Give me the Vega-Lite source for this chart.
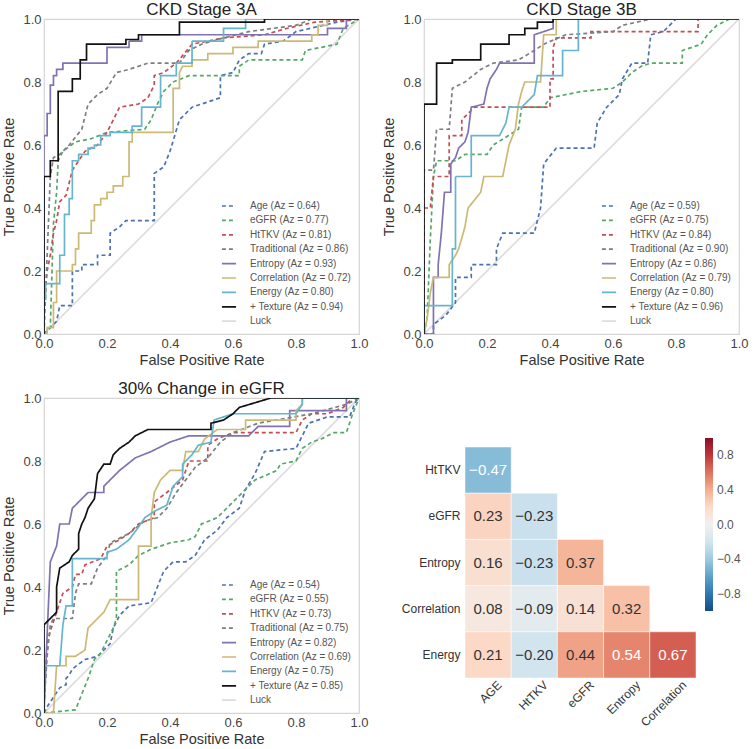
{
"$schema": "https://vega.github.io/schema/vega-lite/v6.json",
"background": "white",
"padding": {"left": 1, "top": 0, "right": 5, "bottom": 0},
"config": {
  "font": "Liberation Sans",
  "view": {"stroke": "#d5d5d5", "strokeWidth": 1.2},
  "axis": {"domain": false, "ticks": false, "grid": false, "labelFontSize": 13, "labelColor": "#444", "titleFontSize": 14.5, "titleFontWeight": "normal", "titleColor": "#333", "labelFlush": false},
  "title": {"fontSize": 17, "fontWeight": "normal", "color": "#222", "offset": -6},
  "legend": {"title": null, "orient": "none", "legendX": 177, "legendY": 179, "symbolType": "stroke", "symbolSize": 200, "labelFontSize": 10, "labelColor": "#555", "rowPadding": 1.4, "labelOffset": 13, "labelLimit": 200}
},
"columns": 2,
"bounds": "flush",
"spacing": {"row": 64, "column": 65},
"resolve": {"scale": {"x": "independent", "y": "independent", "color": "independent", "strokeDash": "independent", "strokeWidth": "independent"}, "legend": {"color": "independent", "strokeDash": "independent", "strokeWidth": "independent"}, "axis": {"x": "independent", "y": "independent"}},
"concat": [
{
  "width": 315, "height": 315,
  "title": "CKD Stage 3A",
  "data": {"values": [
{"s":"Luck","x":0,"y":0},{"s":"Luck","x":1,"y":1},
{"s":"Age","x":0,"y":0},{"s":"Age","x":0.04,"y":0.04},{"s":"Age","x":0.05,"y":0.09},{"s":"Age","x":0.09,"y":0.09},{"s":"Age","x":0.09,"y":0.2},{"s":"Age","x":0.12,"y":0.2},{"s":"Age","x":0.12,"y":0.22},{"s":"Age","x":0.17,"y":0.22},{"s":"Age","x":0.17,"y":0.25},{"s":"Age","x":0.21,"y":0.25},{"s":"Age","x":0.21,"y":0.32},{"s":"Age","x":0.24,"y":0.34},{"s":"Age","x":0.26,"y":0.36},{"s":"Age","x":0.35,"y":0.36},{"s":"Age","x":0.35,"y":0.51},{"s":"Age","x":0.38,"y":0.53},{"s":"Age","x":0.4,"y":0.58},{"s":"Age","x":0.43,"y":0.68},{"s":"Age","x":0.47,"y":0.72},{"s":"Age","x":0.5,"y":0.73},{"s":"Age","x":0.56,"y":0.75},{"s":"Age","x":0.56,"y":0.82},{"s":"Age","x":0.6,"y":0.83},{"s":"Age","x":0.62,"y":0.87},{"s":"Age","x":0.65,"y":0.89},{"s":"Age","x":0.69,"y":0.89},{"s":"Age","x":0.7,"y":0.92},{"s":"Age","x":0.76,"y":0.93},{"s":"Age","x":0.8,"y":0.96},{"s":"Age","x":0.93,"y":0.99},{"s":"Age","x":1,"y":1},
{"s":"eGFR","x":0,"y":0},{"s":"eGFR","x":0.02,"y":0.02},{"s":"eGFR","x":0.03,"y":0.35},{"s":"eGFR","x":0.04,"y":0.45},{"s":"eGFR","x":0.045,"y":0.55},{"s":"eGFR","x":0.06,"y":0.58},{"s":"eGFR","x":0.1,"y":0.61},{"s":"eGFR","x":0.15,"y":0.62},{"s":"eGFR","x":0.2,"y":0.64},{"s":"eGFR","x":0.32,"y":0.65},{"s":"eGFR","x":0.34,"y":0.68},{"s":"eGFR","x":0.36,"y":0.73},{"s":"eGFR","x":0.38,"y":0.77},{"s":"eGFR","x":0.41,"y":0.8},{"s":"eGFR","x":0.46,"y":0.82},{"s":"eGFR","x":0.62,"y":0.82},{"s":"eGFR","x":0.62,"y":0.85},{"s":"eGFR","x":0.65,"y":0.87},{"s":"eGFR","x":0.82,"y":0.87},{"s":"eGFR","x":0.83,"y":0.9},{"s":"eGFR","x":0.93,"y":0.92},{"s":"eGFR","x":0.95,"y":0.97},{"s":"eGFR","x":1,"y":1},
{"s":"HtTKV","x":0,"y":0},{"s":"HtTKV","x":0,"y":0.09},{"s":"HtTKV","x":0.01,"y":0.2},{"s":"HtTKV","x":0.02,"y":0.25},{"s":"HtTKV","x":0.03,"y":0.32},{"s":"HtTKV","x":0.04,"y":0.36},{"s":"HtTKV","x":0.05,"y":0.42},{"s":"HtTKV","x":0.07,"y":0.44},{"s":"HtTKV","x":0.09,"y":0.52},{"s":"HtTKV","x":0.11,"y":0.55},{"s":"HtTKV","x":0.13,"y":0.58},{"s":"HtTKV","x":0.17,"y":0.6},{"s":"HtTKV","x":0.2,"y":0.64},{"s":"HtTKV","x":0.22,"y":0.68},{"s":"HtTKV","x":0.24,"y":0.72},{"s":"HtTKV","x":0.3,"y":0.73},{"s":"HtTKV","x":0.33,"y":0.75},{"s":"HtTKV","x":0.35,"y":0.79},{"s":"HtTKV","x":0.35,"y":0.82},{"s":"HtTKV","x":0.38,"y":0.83},{"s":"HtTKV","x":0.42,"y":0.86},{"s":"HtTKV","x":0.47,"y":0.92},{"s":"HtTKV","x":0.57,"y":0.94},{"s":"HtTKV","x":0.7,"y":0.95},{"s":"HtTKV","x":0.77,"y":0.97},{"s":"HtTKV","x":0.86,"y":0.99},{"s":"HtTKV","x":1,"y":1},
{"s":"Traditional","x":0,"y":0},{"s":"Traditional","x":0.01,"y":0.25},{"s":"Traditional","x":0.02,"y":0.5},{"s":"Traditional","x":0.03,"y":0.56},{"s":"Traditional","x":0.05,"y":0.57},{"s":"Traditional","x":0.08,"y":0.6},{"s":"Traditional","x":0.12,"y":0.65},{"s":"Traditional","x":0.14,"y":0.73},{"s":"Traditional","x":0.17,"y":0.76},{"s":"Traditional","x":0.2,"y":0.78},{"s":"Traditional","x":0.23,"y":0.83},{"s":"Traditional","x":0.27,"y":0.84},{"s":"Traditional","x":0.33,"y":0.86},{"s":"Traditional","x":0.43,"y":0.86},{"s":"Traditional","x":0.46,"y":0.9},{"s":"Traditional","x":0.5,"y":0.92},{"s":"Traditional","x":0.57,"y":0.94},{"s":"Traditional","x":0.65,"y":0.96},{"s":"Traditional","x":0.8,"y":0.98},{"s":"Traditional","x":0.85,"y":1},{"s":"Traditional","x":1,"y":1},
{"s":"Entropy","x":0,"y":0},{"s":"Entropy","x":0,"y":0.63},{"s":"Entropy","x":0.01,"y":0.63},{"s":"Entropy","x":0.01,"y":0.7},{"s":"Entropy","x":0.02,"y":0.7},{"s":"Entropy","x":0.02,"y":0.79},{"s":"Entropy","x":0.03,"y":0.79},{"s":"Entropy","x":0.03,"y":0.82},{"s":"Entropy","x":0.04,"y":0.82},{"s":"Entropy","x":0.04,"y":0.84},{"s":"Entropy","x":0.06,"y":0.84},{"s":"Entropy","x":0.06,"y":0.86},{"s":"Entropy","x":0.2,"y":0.86},{"s":"Entropy","x":0.2,"y":0.91},{"s":"Entropy","x":0.27,"y":0.91},{"s":"Entropy","x":0.27,"y":0.93},{"s":"Entropy","x":0.31,"y":0.93},{"s":"Entropy","x":0.31,"y":0.95},{"s":"Entropy","x":0.9,"y":0.95},{"s":"Entropy","x":0.9,"y":0.97},{"s":"Entropy","x":0.96,"y":0.97},{"s":"Entropy","x":0.96,"y":1},{"s":"Entropy","x":1,"y":1},
{"s":"Correlation","x":0,"y":0},{"s":"Correlation","x":0.01,"y":0},{"s":"Correlation","x":0.01,"y":0.02},{"s":"Correlation","x":0.03,"y":0.02},{"s":"Correlation","x":0.03,"y":0.1},{"s":"Correlation","x":0.04,"y":0.1},{"s":"Correlation","x":0.04,"y":0.2},{"s":"Correlation","x":0.09,"y":0.2},{"s":"Correlation","x":0.09,"y":0.22},{"s":"Correlation","x":0.1,"y":0.22},{"s":"Correlation","x":0.1,"y":0.27},{"s":"Correlation","x":0.11,"y":0.27},{"s":"Correlation","x":0.11,"y":0.32},{"s":"Correlation","x":0.15,"y":0.32},{"s":"Correlation","x":0.15,"y":0.36},{"s":"Correlation","x":0.16,"y":0.36},{"s":"Correlation","x":0.16,"y":0.41},{"s":"Correlation","x":0.18,"y":0.41},{"s":"Correlation","x":0.18,"y":0.43},{"s":"Correlation","x":0.2,"y":0.43},{"s":"Correlation","x":0.2,"y":0.45},{"s":"Correlation","x":0.22,"y":0.45},{"s":"Correlation","x":0.22,"y":0.47},{"s":"Correlation","x":0.25,"y":0.47},{"s":"Correlation","x":0.25,"y":0.5},{"s":"Correlation","x":0.27,"y":0.5},{"s":"Correlation","x":0.27,"y":0.61},{"s":"Correlation","x":0.28,"y":0.61},{"s":"Correlation","x":0.28,"y":0.64},{"s":"Correlation","x":0.41,"y":0.64},{"s":"Correlation","x":0.41,"y":0.78},{"s":"Correlation","x":0.43,"y":0.78},{"s":"Correlation","x":0.43,"y":0.83},{"s":"Correlation","x":0.44,"y":0.85},{"s":"Correlation","x":0.47,"y":0.85},{"s":"Correlation","x":0.47,"y":0.87},{"s":"Correlation","x":0.52,"y":0.87},{"s":"Correlation","x":0.52,"y":0.89},{"s":"Correlation","x":0.6,"y":0.89},{"s":"Correlation","x":0.6,"y":0.91},{"s":"Correlation","x":0.68,"y":0.91},{"s":"Correlation","x":0.68,"y":0.93},{"s":"Correlation","x":0.85,"y":0.93},{"s":"Correlation","x":0.85,"y":0.95},{"s":"Correlation","x":0.87,"y":0.95},{"s":"Correlation","x":0.87,"y":0.98},{"s":"Correlation","x":0.9,"y":0.98},{"s":"Correlation","x":0.9,"y":1},{"s":"Correlation","x":1,"y":1},
{"s":"Energy","x":0,"y":0},{"s":"Energy","x":0,"y":0.11},{"s":"Energy","x":0.005,"y":0.11},{"s":"Energy","x":0.005,"y":0.16},{"s":"Energy","x":0.05,"y":0.16},{"s":"Energy","x":0.05,"y":0.25},{"s":"Energy","x":0.065,"y":0.25},{"s":"Energy","x":0.065,"y":0.38},{"s":"Energy","x":0.08,"y":0.38},{"s":"Energy","x":0.08,"y":0.43},{"s":"Energy","x":0.09,"y":0.43},{"s":"Energy","x":0.09,"y":0.55},{"s":"Energy","x":0.11,"y":0.55},{"s":"Energy","x":0.11,"y":0.57},{"s":"Energy","x":0.14,"y":0.57},{"s":"Energy","x":0.14,"y":0.59},{"s":"Energy","x":0.16,"y":0.59},{"s":"Energy","x":0.16,"y":0.6},{"s":"Energy","x":0.18,"y":0.6},{"s":"Energy","x":0.18,"y":0.63},{"s":"Energy","x":0.21,"y":0.63},{"s":"Energy","x":0.21,"y":0.64},{"s":"Energy","x":0.28,"y":0.64},{"s":"Energy","x":0.28,"y":0.66},{"s":"Energy","x":0.31,"y":0.66},{"s":"Energy","x":0.31,"y":0.72},{"s":"Energy","x":0.37,"y":0.72},{"s":"Energy","x":0.37,"y":0.82},{"s":"Energy","x":0.42,"y":0.82},{"s":"Energy","x":0.42,"y":0.86},{"s":"Energy","x":0.47,"y":0.86},{"s":"Energy","x":0.47,"y":0.93},{"s":"Energy","x":0.57,"y":0.93},{"s":"Energy","x":0.57,"y":0.97},{"s":"Energy","x":0.64,"y":0.97},{"s":"Energy","x":0.64,"y":1},{"s":"Energy","x":1,"y":1},
{"s":"+ Texture","x":0,"y":0},{"s":"+ Texture","x":0,"y":0.5},{"s":"+ Texture","x":0.02,"y":0.5},{"s":"+ Texture","x":0.02,"y":0.55},{"s":"+ Texture","x":0.045,"y":0.55},{"s":"+ Texture","x":0.045,"y":0.77},{"s":"+ Texture","x":0.09,"y":0.77},{"s":"+ Texture","x":0.09,"y":0.81},{"s":"+ Texture","x":0.115,"y":0.81},{"s":"+ Texture","x":0.115,"y":0.87},{"s":"+ Texture","x":0.135,"y":0.87},{"s":"+ Texture","x":0.135,"y":0.92},{"s":"+ Texture","x":0.26,"y":0.92},{"s":"+ Texture","x":0.26,"y":0.935},{"s":"+ Texture","x":0.3,"y":0.935},{"s":"+ Texture","x":0.3,"y":0.95},{"s":"+ Texture","x":0.43,"y":0.95},{"s":"+ Texture","x":0.43,"y":0.99},{"s":"+ Texture","x":0.7,"y":0.99},{"s":"+ Texture","x":0.7,"y":1},{"s":"+ Texture","x":1,"y":1}
  ]},
  "mark": {"type": "line", "clip": true},
  "encoding": {
    "x": {"field": "x", "type": "quantitative", "title": "False Positive Rate", "scale": {"domain": [0, 1], "nice": false}, "axis": {"values": [0, 0.2, 0.4, 0.6, 0.8, 1], "format": ".1f", "labelPadding": 3, "titlePadding": 3}},
    "y": {"field": "y", "type": "quantitative", "title": "True Positive Rate", "scale": {"domain": [0, 1], "nice": false}, "axis": {"values": [0, 0.2, 0.4, 0.6, 0.8, 1], "format": ".1f", "labelPadding": 3, "titlePadding": 6}},
    "order": [{"field": "x", "type": "quantitative"}, {"field": "y", "type": "quantitative"}],
    "color": {"field": "s", "type": "nominal", "scale": {"domain": ["Age","eGFR","HtTKV","Traditional","Entropy","Correlation","Energy","+ Texture","Luck"], "range": ["#4c72b0","#55a868","#c44e52","#7a7f80","#8172b2","#ccb974","#64b5cd","#111111","#dddddd"]},
      "legend": {"labelExpr": "datum.label == 'Luck' ? 'Luck' : datum.label + ' (Az = ' + {'Age':'0.64','eGFR':'0.77','HtTKV':'0.81','Traditional':'0.86','Entropy':'0.93','Correlation':'0.72','Energy':'0.80','+ Texture':'0.94'}[datum.label] + ')'"}},
    "strokeDash": {"field": "s", "type": "nominal", "scale": {"domain": ["Age","eGFR","HtTKV","Traditional","Entropy","Correlation","Energy","+ Texture","Luck"], "range": [[4,3],[4,3],[4,3],[4,3],[1,0],[1,0],[1,0],[1,0],[1,0]]},
      "legend": {"labelExpr": "datum.label == 'Luck' ? 'Luck' : datum.label + ' (Az = ' + {'Age':'0.64','eGFR':'0.77','HtTKV':'0.81','Traditional':'0.86','Entropy':'0.93','Correlation':'0.72','Energy':'0.80','+ Texture':'0.94'}[datum.label] + ')'"}},
    "strokeWidth": {"field": "s", "type": "nominal", "scale": {"domain": ["Age","eGFR","HtTKV","Traditional","Entropy","Correlation","Energy","+ Texture","Luck"], "range": [1.7,1.7,1.7,1.7,1.7,1.7,1.7,2.6,1]},
      "legend": {"labelExpr": "datum.label == 'Luck' ? 'Luck' : datum.label + ' (Az = ' + {'Age':'0.64','eGFR':'0.77','HtTKV':'0.81','Traditional':'0.86','Entropy':'0.93','Correlation':'0.72','Energy':'0.80','+ Texture':'0.94'}[datum.label] + ')'"}}
  }
},
{
  "width": 315, "height": 315,
  "title": "CKD Stage 3B",
  "data": {"values": [
{"s":"Luck","x":0,"y":0},{"s":"Luck","x":1,"y":1},
{"s":"Age","x":0,"y":0},{"s":"Age","x":0.03,"y":0},{"s":"Age","x":0.03,"y":0.03},{"s":"Age","x":0.07,"y":0.06},{"s":"Age","x":0.1,"y":0.1},{"s":"Age","x":0.1,"y":0.18},{"s":"Age","x":0.15,"y":0.18},{"s":"Age","x":0.15,"y":0.22},{"s":"Age","x":0.23,"y":0.22},{"s":"Age","x":0.23,"y":0.27},{"s":"Age","x":0.25,"y":0.32},{"s":"Age","x":0.35,"y":0.32},{"s":"Age","x":0.37,"y":0.4},{"s":"Age","x":0.38,"y":0.54},{"s":"Age","x":0.42,"y":0.59},{"s":"Age","x":0.54,"y":0.59},{"s":"Age","x":0.55,"y":0.67},{"s":"Age","x":0.58,"y":0.72},{"s":"Age","x":0.62,"y":0.76},{"s":"Age","x":0.63,"y":0.81},{"s":"Age","x":0.66,"y":0.86},{"s":"Age","x":0.71,"y":0.86},{"s":"Age","x":0.72,"y":0.95},{"s":"Age","x":0.76,"y":0.96},{"s":"Age","x":0.8,"y":1},{"s":"Age","x":1,"y":1},
{"s":"eGFR","x":0,"y":0},{"s":"eGFR","x":0.01,"y":0.05},{"s":"eGFR","x":0.02,"y":0.3},{"s":"eGFR","x":0.03,"y":0.5},{"s":"eGFR","x":0.04,"y":0.55},{"s":"eGFR","x":0.1,"y":0.55},{"s":"eGFR","x":0.13,"y":0.57},{"s":"eGFR","x":0.2,"y":0.57},{"s":"eGFR","x":0.22,"y":0.6},{"s":"eGFR","x":0.3,"y":0.65},{"s":"eGFR","x":0.31,"y":0.72},{"s":"eGFR","x":0.38,"y":0.72},{"s":"eGFR","x":0.4,"y":0.75},{"s":"eGFR","x":0.5,"y":0.77},{"s":"eGFR","x":0.6,"y":0.78},{"s":"eGFR","x":0.63,"y":0.8},{"s":"eGFR","x":0.66,"y":0.83},{"s":"eGFR","x":0.69,"y":0.85},{"s":"eGFR","x":0.72,"y":0.86},{"s":"eGFR","x":0.82,"y":0.86},{"s":"eGFR","x":0.82,"y":0.9},{"s":"eGFR","x":0.88,"y":0.92},{"s":"eGFR","x":0.9,"y":0.95},{"s":"eGFR","x":0.93,"y":0.98},{"s":"eGFR","x":0.97,"y":1},{"s":"eGFR","x":1,"y":1},
{"s":"HtTKV","x":0,"y":0},{"s":"HtTKV","x":0,"y":0.4},{"s":"HtTKV","x":0.02,"y":0.4},{"s":"HtTKV","x":0.03,"y":0.5},{"s":"HtTKV","x":0.08,"y":0.5},{"s":"HtTKV","x":0.08,"y":0.63},{"s":"HtTKV","x":0.12,"y":0.63},{"s":"HtTKV","x":0.12,"y":0.68},{"s":"HtTKV","x":0.16,"y":0.72},{"s":"HtTKV","x":0.4,"y":0.72},{"s":"HtTKV","x":0.4,"y":0.81},{"s":"HtTKV","x":0.41,"y":0.81},{"s":"HtTKV","x":0.41,"y":0.91},{"s":"HtTKV","x":0.42,"y":0.94},{"s":"HtTKV","x":0.53,"y":0.94},{"s":"HtTKV","x":0.53,"y":0.96},{"s":"HtTKV","x":0.87,"y":0.96},{"s":"HtTKV","x":0.87,"y":1},{"s":"HtTKV","x":1,"y":1},
{"s":"Traditional","x":0,"y":0},{"s":"Traditional","x":0,"y":0.52},{"s":"Traditional","x":0.03,"y":0.52},{"s":"Traditional","x":0.04,"y":0.65},{"s":"Traditional","x":0.08,"y":0.65},{"s":"Traditional","x":0.09,"y":0.78},{"s":"Traditional","x":0.13,"y":0.8},{"s":"Traditional","x":0.18,"y":0.84},{"s":"Traditional","x":0.22,"y":0.86},{"s":"Traditional","x":0.3,"y":0.87},{"s":"Traditional","x":0.35,"y":0.9},{"s":"Traditional","x":0.38,"y":0.92},{"s":"Traditional","x":0.45,"y":0.95},{"s":"Traditional","x":0.6,"y":0.96},{"s":"Traditional","x":0.63,"y":0.98},{"s":"Traditional","x":0.72,"y":1},{"s":"Traditional","x":1,"y":1},
{"s":"Entropy","x":0,"y":0},{"s":"Entropy","x":0.03,"y":0},{"s":"Entropy","x":0.03,"y":0.18},{"s":"Entropy","x":0.045,"y":0.18},{"s":"Entropy","x":0.045,"y":0.22},{"s":"Entropy","x":0.055,"y":0.32},{"s":"Entropy","x":0.065,"y":0.45},{"s":"Entropy","x":0.085,"y":0.45},{"s":"Entropy","x":0.085,"y":0.54},{"s":"Entropy","x":0.1,"y":0.56},{"s":"Entropy","x":0.11,"y":0.59},{"s":"Entropy","x":0.13,"y":0.61},{"s":"Entropy","x":0.14,"y":0.64},{"s":"Entropy","x":0.15,"y":0.72},{"s":"Entropy","x":0.19,"y":0.73},{"s":"Entropy","x":0.2,"y":0.78},{"s":"Entropy","x":0.21,"y":0.81},{"s":"Entropy","x":0.23,"y":0.84},{"s":"Entropy","x":0.24,"y":0.86},{"s":"Entropy","x":0.35,"y":0.86},{"s":"Entropy","x":0.35,"y":0.95},{"s":"Entropy","x":0.41,"y":0.97},{"s":"Entropy","x":0.41,"y":1},{"s":"Entropy","x":1,"y":1},
{"s":"Correlation","x":0,"y":0},{"s":"Correlation","x":0.01,"y":0.05},{"s":"Correlation","x":0.02,"y":0.13},{"s":"Correlation","x":0.03,"y":0.18},{"s":"Correlation","x":0.08,"y":0.18},{"s":"Correlation","x":0.08,"y":0.22},{"s":"Correlation","x":0.1,"y":0.25},{"s":"Correlation","x":0.11,"y":0.27},{"s":"Correlation","x":0.13,"y":0.34},{"s":"Correlation","x":0.14,"y":0.4},{"s":"Correlation","x":0.18,"y":0.45},{"s":"Correlation","x":0.19,"y":0.5},{"s":"Correlation","x":0.25,"y":0.5},{"s":"Correlation","x":0.26,"y":0.55},{"s":"Correlation","x":0.27,"y":0.6},{"s":"Correlation","x":0.29,"y":0.65},{"s":"Correlation","x":0.3,"y":0.73},{"s":"Correlation","x":0.31,"y":0.77},{"s":"Correlation","x":0.32,"y":0.8},{"s":"Correlation","x":0.37,"y":0.8},{"s":"Correlation","x":0.38,"y":0.95},{"s":"Correlation","x":0.42,"y":0.95},{"s":"Correlation","x":0.42,"y":1},{"s":"Correlation","x":1,"y":1},
{"s":"Energy","x":0,"y":0},{"s":"Energy","x":0,"y":0.09},{"s":"Energy","x":0.09,"y":0.09},{"s":"Energy","x":0.09,"y":0.27},{"s":"Energy","x":0.1,"y":0.27},{"s":"Energy","x":0.1,"y":0.5},{"s":"Energy","x":0.15,"y":0.5},{"s":"Energy","x":0.15,"y":0.63},{"s":"Energy","x":0.24,"y":0.63},{"s":"Energy","x":0.26,"y":0.67},{"s":"Energy","x":0.27,"y":0.72},{"s":"Energy","x":0.31,"y":0.72},{"s":"Energy","x":0.35,"y":0.76},{"s":"Energy","x":0.36,"y":0.82},{"s":"Energy","x":0.44,"y":0.82},{"s":"Energy","x":0.44,"y":0.9},{"s":"Energy","x":0.49,"y":0.9},{"s":"Energy","x":0.49,"y":1},{"s":"Energy","x":1,"y":1},
{"s":"+ Texture","x":0,"y":0},{"s":"+ Texture","x":0,"y":0.73},{"s":"+ Texture","x":0.04,"y":0.73},{"s":"+ Texture","x":0.04,"y":0.86},{"s":"+ Texture","x":0.09,"y":0.86},{"s":"+ Texture","x":0.09,"y":0.87},{"s":"+ Texture","x":0.18,"y":0.87},{"s":"+ Texture","x":0.18,"y":0.92},{"s":"+ Texture","x":0.27,"y":0.92},{"s":"+ Texture","x":0.27,"y":0.95},{"s":"+ Texture","x":0.32,"y":0.95},{"s":"+ Texture","x":0.32,"y":0.97},{"s":"+ Texture","x":0.36,"y":0.97},{"s":"+ Texture","x":0.36,"y":0.99},{"s":"+ Texture","x":0.41,"y":0.99},{"s":"+ Texture","x":0.41,"y":1},{"s":"+ Texture","x":1,"y":1}
  ]},
  "mark": {"type": "line", "clip": true},
  "encoding": {
    "x": {"field": "x", "type": "quantitative", "title": "False Positive Rate", "scale": {"domain": [0, 1], "nice": false}, "axis": {"values": [0, 0.2, 0.4, 0.6, 0.8, 1], "format": ".1f", "labelPadding": 3, "titlePadding": 3}},
    "y": {"field": "y", "type": "quantitative", "title": "True Positive Rate", "scale": {"domain": [0, 1], "nice": false}, "axis": {"values": [0, 0.2, 0.4, 0.6, 0.8, 1], "format": ".1f", "labelPadding": 3, "titlePadding": 6}},
    "order": [{"field": "x", "type": "quantitative"}, {"field": "y", "type": "quantitative"}],
    "color": {"field": "s", "type": "nominal", "scale": {"domain": ["Age","eGFR","HtTKV","Traditional","Entropy","Correlation","Energy","+ Texture","Luck"], "range": ["#4c72b0","#55a868","#c44e52","#7a7f80","#8172b2","#ccb974","#64b5cd","#111111","#dddddd"]},
      "legend": {"labelExpr": "datum.label == 'Luck' ? 'Luck' : datum.label + ' (Az = ' + {'Age':'0.59','eGFR':'0.75','HtTKV':'0.84','Traditional':'0.90','Entropy':'0.86','Correlation':'0.79','Energy':'0.80','+ Texture':'0.96'}[datum.label] + ')'"}},
    "strokeDash": {"field": "s", "type": "nominal", "scale": {"domain": ["Age","eGFR","HtTKV","Traditional","Entropy","Correlation","Energy","+ Texture","Luck"], "range": [[4,3],[4,3],[4,3],[4,3],[1,0],[1,0],[1,0],[1,0],[1,0]]},
      "legend": {"labelExpr": "datum.label == 'Luck' ? 'Luck' : datum.label + ' (Az = ' + {'Age':'0.59','eGFR':'0.75','HtTKV':'0.84','Traditional':'0.90','Entropy':'0.86','Correlation':'0.79','Energy':'0.80','+ Texture':'0.96'}[datum.label] + ')'"}},
    "strokeWidth": {"field": "s", "type": "nominal", "scale": {"domain": ["Age","eGFR","HtTKV","Traditional","Entropy","Correlation","Energy","+ Texture","Luck"], "range": [1.7,1.7,1.7,1.7,1.7,1.7,1.7,2.6,1]},
      "legend": {"labelExpr": "datum.label == 'Luck' ? 'Luck' : datum.label + ' (Az = ' + {'Age':'0.59','eGFR':'0.75','HtTKV':'0.84','Traditional':'0.90','Entropy':'0.86','Correlation':'0.79','Energy':'0.80','+ Texture':'0.96'}[datum.label] + ')'"}}
  }
},
{
  "width": 315, "height": 315,
  "title": "30% Change in eGFR",
  "data": {"values": [
{"s":"Luck","x":0,"y":0},{"s":"Luck","x":1,"y":1},
{"s":"Age","x":0,"y":0},{"s":"Age","x":0.01,"y":0.02},{"s":"Age","x":0.05,"y":0.08},{"s":"Age","x":0.07,"y":0.09},{"s":"Age","x":0.07,"y":0.11},{"s":"Age","x":0.08,"y":0.12},{"s":"Age","x":0.09,"y":0.14},{"s":"Age","x":0.13,"y":0.17},{"s":"Age","x":0.17,"y":0.18},{"s":"Age","x":0.19,"y":0.2},{"s":"Age","x":0.21,"y":0.22},{"s":"Age","x":0.22,"y":0.27},{"s":"Age","x":0.24,"y":0.31},{"s":"Age","x":0.27,"y":0.34},{"s":"Age","x":0.34,"y":0.35},{"s":"Age","x":0.36,"y":0.4},{"s":"Age","x":0.38,"y":0.45},{"s":"Age","x":0.41,"y":0.48},{"s":"Age","x":0.45,"y":0.48},{"s":"Age","x":0.48,"y":0.5},{"s":"Age","x":0.51,"y":0.55},{"s":"Age","x":0.55,"y":0.58},{"s":"Age","x":0.58,"y":0.62},{"s":"Age","x":0.62,"y":0.65},{"s":"Age","x":0.64,"y":0.71},{"s":"Age","x":0.67,"y":0.76},{"s":"Age","x":0.7,"y":0.83},{"s":"Age","x":0.8,"y":0.84},{"s":"Age","x":0.82,"y":0.88},{"s":"Age","x":0.84,"y":0.92},{"s":"Age","x":0.9,"y":0.94},{"s":"Age","x":0.97,"y":0.94},{"s":"Age","x":0.99,"y":0.99},{"s":"Age","x":1,"y":1},
{"s":"eGFR","x":0,"y":0},{"s":"eGFR","x":0.1,"y":0.01},{"s":"eGFR","x":0.12,"y":0.06},{"s":"eGFR","x":0.14,"y":0.11},{"s":"eGFR","x":0.16,"y":0.17},{"s":"eGFR","x":0.18,"y":0.19},{"s":"eGFR","x":0.2,"y":0.23},{"s":"eGFR","x":0.22,"y":0.27},{"s":"eGFR","x":0.23,"y":0.3},{"s":"eGFR","x":0.23,"y":0.45},{"s":"eGFR","x":0.27,"y":0.47},{"s":"eGFR","x":0.3,"y":0.5},{"s":"eGFR","x":0.34,"y":0.52},{"s":"eGFR","x":0.4,"y":0.54},{"s":"eGFR","x":0.46,"y":0.55},{"s":"eGFR","x":0.48,"y":0.56},{"s":"eGFR","x":0.5,"y":0.6},{"s":"eGFR","x":0.55,"y":0.62},{"s":"eGFR","x":0.6,"y":0.67},{"s":"eGFR","x":0.63,"y":0.7},{"s":"eGFR","x":0.67,"y":0.74},{"s":"eGFR","x":0.74,"y":0.77},{"s":"eGFR","x":0.75,"y":0.79},{"s":"eGFR","x":0.8,"y":0.8},{"s":"eGFR","x":0.82,"y":0.84},{"s":"eGFR","x":0.85,"y":0.86},{"s":"eGFR","x":0.88,"y":0.87},{"s":"eGFR","x":0.92,"y":0.89},{"s":"eGFR","x":0.96,"y":0.89},{"s":"eGFR","x":0.98,"y":0.95},{"s":"eGFR","x":1,"y":1},
{"s":"HtTKV","x":0,"y":0},{"s":"HtTKV","x":0,"y":0.03},{"s":"HtTKV","x":0.01,"y":0.22},{"s":"HtTKV","x":0.02,"y":0.26},{"s":"HtTKV","x":0.04,"y":0.32},{"s":"HtTKV","x":0.06,"y":0.38},{"s":"HtTKV","x":0.09,"y":0.4},{"s":"HtTKV","x":0.1,"y":0.44},{"s":"HtTKV","x":0.12,"y":0.44},{"s":"HtTKV","x":0.13,"y":0.47},{"s":"HtTKV","x":0.18,"y":0.49},{"s":"HtTKV","x":0.2,"y":0.53},{"s":"HtTKV","x":0.24,"y":0.55},{"s":"HtTKV","x":0.27,"y":0.57},{"s":"HtTKV","x":0.3,"y":0.6},{"s":"HtTKV","x":0.35,"y":0.62},{"s":"HtTKV","x":0.35,"y":0.67},{"s":"HtTKV","x":0.39,"y":0.7},{"s":"HtTKV","x":0.44,"y":0.74},{"s":"HtTKV","x":0.46,"y":0.8},{"s":"HtTKV","x":0.52,"y":0.8},{"s":"HtTKV","x":0.52,"y":0.85},{"s":"HtTKV","x":0.55,"y":0.87},{"s":"HtTKV","x":0.6,"y":0.89},{"s":"HtTKV","x":0.8,"y":0.89},{"s":"HtTKV","x":0.82,"y":0.93},{"s":"HtTKV","x":0.85,"y":0.95},{"s":"HtTKV","x":0.9,"y":0.95},{"s":"HtTKV","x":0.95,"y":0.97},{"s":"HtTKV","x":0.98,"y":1},{"s":"HtTKV","x":1,"y":1},
{"s":"Traditional","x":0,"y":0},{"s":"Traditional","x":0,"y":0.03},{"s":"Traditional","x":0.01,"y":0.18},{"s":"Traditional","x":0.02,"y":0.28},{"s":"Traditional","x":0.03,"y":0.3},{"s":"Traditional","x":0.09,"y":0.3},{"s":"Traditional","x":0.1,"y":0.38},{"s":"Traditional","x":0.11,"y":0.41},{"s":"Traditional","x":0.15,"y":0.41},{"s":"Traditional","x":0.17,"y":0.46},{"s":"Traditional","x":0.2,"y":0.5},{"s":"Traditional","x":0.21,"y":0.54},{"s":"Traditional","x":0.27,"y":0.57},{"s":"Traditional","x":0.32,"y":0.61},{"s":"Traditional","x":0.36,"y":0.62},{"s":"Traditional","x":0.39,"y":0.65},{"s":"Traditional","x":0.42,"y":0.7},{"s":"Traditional","x":0.48,"y":0.78},{"s":"Traditional","x":0.52,"y":0.81},{"s":"Traditional","x":0.56,"y":0.86},{"s":"Traditional","x":0.6,"y":0.89},{"s":"Traditional","x":0.68,"y":0.92},{"s":"Traditional","x":0.85,"y":0.95},{"s":"Traditional","x":0.96,"y":0.98},{"s":"Traditional","x":1,"y":1},
{"s":"Entropy","x":0,"y":0},{"s":"Entropy","x":0.01,"y":0.25},{"s":"Entropy","x":0.02,"y":0.48},{"s":"Entropy","x":0.04,"y":0.53},{"s":"Entropy","x":0.05,"y":0.6},{"s":"Entropy","x":0.08,"y":0.6},{"s":"Entropy","x":0.09,"y":0.65},{"s":"Entropy","x":0.11,"y":0.67},{"s":"Entropy","x":0.14,"y":0.7},{"s":"Entropy","x":0.19,"y":0.7},{"s":"Entropy","x":0.19,"y":0.72},{"s":"Entropy","x":0.24,"y":0.77},{"s":"Entropy","x":0.29,"y":0.81},{"s":"Entropy","x":0.34,"y":0.83},{"s":"Entropy","x":0.4,"y":0.86},{"s":"Entropy","x":0.46,"y":0.88},{"s":"Entropy","x":0.65,"y":0.88},{"s":"Entropy","x":0.68,"y":0.91},{"s":"Entropy","x":0.78,"y":0.91},{"s":"Entropy","x":0.78,"y":0.96},{"s":"Entropy","x":0.96,"y":0.96},{"s":"Entropy","x":0.96,"y":1},{"s":"Entropy","x":1,"y":1},
{"s":"Correlation","x":0,"y":0},{"s":"Correlation","x":0.03,"y":0},{"s":"Correlation","x":0.04,"y":0.15},{"s":"Correlation","x":0.07,"y":0.15},{"s":"Correlation","x":0.07,"y":0.18},{"s":"Correlation","x":0.1,"y":0.18},{"s":"Correlation","x":0.13,"y":0.2},{"s":"Correlation","x":0.14,"y":0.27},{"s":"Correlation","x":0.19,"y":0.32},{"s":"Correlation","x":0.21,"y":0.36},{"s":"Correlation","x":0.3,"y":0.36},{"s":"Correlation","x":0.3,"y":0.53},{"s":"Correlation","x":0.34,"y":0.53},{"s":"Correlation","x":0.34,"y":0.62},{"s":"Correlation","x":0.35,"y":0.7},{"s":"Correlation","x":0.37,"y":0.74},{"s":"Correlation","x":0.4,"y":0.77},{"s":"Correlation","x":0.44,"y":0.77},{"s":"Correlation","x":0.45,"y":0.83},{"s":"Correlation","x":0.49,"y":0.83},{"s":"Correlation","x":0.51,"y":0.87},{"s":"Correlation","x":0.55,"y":0.9},{"s":"Correlation","x":0.64,"y":0.9},{"s":"Correlation","x":0.64,"y":0.93},{"s":"Correlation","x":0.8,"y":0.93},{"s":"Correlation","x":0.8,"y":0.96},{"s":"Correlation","x":0.82,"y":0.98},{"s":"Correlation","x":0.82,"y":1},{"s":"Correlation","x":1,"y":1},
{"s":"Energy","x":0,"y":0},{"s":"Energy","x":0,"y":0.15},{"s":"Energy","x":0.05,"y":0.15},{"s":"Energy","x":0.06,"y":0.28},{"s":"Energy","x":0.07,"y":0.34},{"s":"Energy","x":0.09,"y":0.34},{"s":"Energy","x":0.09,"y":0.49},{"s":"Energy","x":0.2,"y":0.49},{"s":"Energy","x":0.2,"y":0.51},{"s":"Energy","x":0.23,"y":0.52},{"s":"Energy","x":0.27,"y":0.55},{"s":"Energy","x":0.3,"y":0.59},{"s":"Energy","x":0.32,"y":0.62},{"s":"Energy","x":0.35,"y":0.64},{"s":"Energy","x":0.39,"y":0.66},{"s":"Energy","x":0.41,"y":0.72},{"s":"Energy","x":0.44,"y":0.75},{"s":"Energy","x":0.44,"y":0.79},{"s":"Energy","x":0.47,"y":0.82},{"s":"Energy","x":0.49,"y":0.85},{"s":"Energy","x":0.53,"y":0.86},{"s":"Energy","x":0.54,"y":0.93},{"s":"Energy","x":0.6,"y":0.95},{"s":"Energy","x":0.8,"y":0.95},{"s":"Energy","x":0.82,"y":0.98},{"s":"Energy","x":0.82,"y":1},{"s":"Energy","x":1,"y":1},
{"s":"+ Texture","x":0,"y":0},{"s":"+ Texture","x":0,"y":0.28},{"s":"+ Texture","x":0.02,"y":0.3},{"s":"+ Texture","x":0.04,"y":0.32},{"s":"+ Texture","x":0.04,"y":0.4},{"s":"+ Texture","x":0.05,"y":0.46},{"s":"+ Texture","x":0.08,"y":0.48},{"s":"+ Texture","x":0.09,"y":0.5},{"s":"+ Texture","x":0.11,"y":0.52},{"s":"+ Texture","x":0.11,"y":0.57},{"s":"+ Texture","x":0.12,"y":0.6},{"s":"+ Texture","x":0.13,"y":0.62},{"s":"+ Texture","x":0.14,"y":0.65},{"s":"+ Texture","x":0.16,"y":0.68},{"s":"+ Texture","x":0.17,"y":0.76},{"s":"+ Texture","x":0.19,"y":0.79},{"s":"+ Texture","x":0.21,"y":0.79},{"s":"+ Texture","x":0.22,"y":0.82},{"s":"+ Texture","x":0.24,"y":0.84},{"s":"+ Texture","x":0.27,"y":0.86},{"s":"+ Texture","x":0.29,"y":0.88},{"s":"+ Texture","x":0.33,"y":0.9},{"s":"+ Texture","x":0.53,"y":0.9},{"s":"+ Texture","x":0.53,"y":0.92},{"s":"+ Texture","x":0.57,"y":0.93},{"s":"+ Texture","x":0.6,"y":0.95},{"s":"+ Texture","x":0.62,"y":0.97},{"s":"+ Texture","x":0.72,"y":1},{"s":"+ Texture","x":1,"y":1}
  ]},
  "mark": {"type": "line", "clip": true},
  "encoding": {
    "x": {"field": "x", "type": "quantitative", "title": "False Positive Rate", "scale": {"domain": [0, 1], "nice": false}, "axis": {"values": [0, 0.2, 0.4, 0.6, 0.8, 1], "format": ".1f", "labelPadding": 3, "titlePadding": 3}},
    "y": {"field": "y", "type": "quantitative", "title": "True Positive Rate", "scale": {"domain": [0, 1], "nice": false}, "axis": {"values": [0, 0.2, 0.4, 0.6, 0.8, 1], "format": ".1f", "labelPadding": 3, "titlePadding": 6}},
    "order": [{"field": "x", "type": "quantitative"}, {"field": "y", "type": "quantitative"}],
    "color": {"field": "s", "type": "nominal", "scale": {"domain": ["Age","eGFR","HtTKV","Traditional","Entropy","Correlation","Energy","+ Texture","Luck"], "range": ["#4c72b0","#55a868","#c44e52","#7a7f80","#8172b2","#ccb974","#64b5cd","#111111","#dddddd"]},
      "legend": {"labelExpr": "datum.label == 'Luck' ? 'Luck' : datum.label + ' (Az = ' + {'Age':'0.54','eGFR':'0.55','HtTKV':'0.73','Traditional':'0.75','Entropy':'0.82','Correlation':'0.69','Energy':'0.75','+ Texture':'0.85'}[datum.label] + ')'"}},
    "strokeDash": {"field": "s", "type": "nominal", "scale": {"domain": ["Age","eGFR","HtTKV","Traditional","Entropy","Correlation","Energy","+ Texture","Luck"], "range": [[4,3],[4,3],[4,3],[4,3],[1,0],[1,0],[1,0],[1,0],[1,0]]},
      "legend": {"labelExpr": "datum.label == 'Luck' ? 'Luck' : datum.label + ' (Az = ' + {'Age':'0.54','eGFR':'0.55','HtTKV':'0.73','Traditional':'0.75','Entropy':'0.82','Correlation':'0.69','Energy':'0.75','+ Texture':'0.85'}[datum.label] + ')'"}},
    "strokeWidth": {"field": "s", "type": "nominal", "scale": {"domain": ["Age","eGFR","HtTKV","Traditional","Entropy","Correlation","Energy","+ Texture","Luck"], "range": [1.7,1.7,1.7,1.7,1.7,1.7,1.7,2.6,1]},
      "legend": {"labelExpr": "datum.label == 'Luck' ? 'Luck' : datum.label + ' (Az = ' + {'Age':'0.54','eGFR':'0.55','HtTKV':'0.73','Traditional':'0.75','Entropy':'0.82','Correlation':'0.69','Energy':'0.75','+ Texture':'0.85'}[datum.label] + ')'"}}
  }
},
{
  "width": 315, "height": 315,
  "view": {"stroke": null},
  "data": {"values": [
    {"c":"AGE","r":"HtTKV","v":-0.47},
    {"c":"AGE","r":"eGFR","v":0.23},{"c":"HtTKV","r":"eGFR","v":-0.23},
    {"c":"AGE","r":"Entropy","v":0.16},{"c":"HtTKV","r":"Entropy","v":-0.23},{"c":"eGFR","r":"Entropy","v":0.37},
    {"c":"AGE","r":"Correlation","v":0.08},{"c":"HtTKV","r":"Correlation","v":-0.09},{"c":"eGFR","r":"Correlation","v":0.14},{"c":"Entropy","r":"Correlation","v":0.32},
    {"c":"AGE","r":"Energy","v":0.21},{"c":"HtTKV","r":"Energy","v":-0.20},{"c":"eGFR","r":"Energy","v":0.44},{"c":"Entropy","r":"Energy","v":0.54},{"c":"Correlation","r":"Energy","v":0.67}
  ]},
  "encoding": {
    "x": {"field": "c", "type": "nominal", "title": null, "sort": ["AGE","HtTKV","eGFR","Entropy","Correlation"], "scale": {"domain": ["AGE","HtTKV","eGFR","Entropy","Correlation"], "range": [41, 272], "paddingInner": 0, "paddingOuter": 0}, "axis": {"offset": -35, "labelAngle": -45, "labelAlign": "right", "labelBaseline": "top", "labelPadding": 1, "labelOffset": 8, "labelFontSize": 12, "labelColor": "#333"}},
    "y": {"field": "r", "type": "nominal", "title": null, "sort": ["HtTKV","eGFR","Entropy","Correlation","Energy"], "scale": {"domain": ["HtTKV","eGFR","Entropy","Correlation","Energy"], "range": [49, 280], "paddingInner": 0, "paddingOuter": 0}, "axis": {"offset": -41, "labelPadding": 5, "labelFontSize": 12, "labelColor": "#333"}}
  },
  "layer": [
    {"mark": {"type": "rect", "stroke": "white", "strokeWidth": 0.5},
     "encoding": {"color": {"field": "v", "type": "quantitative", "scale": {"scheme": "redblue", "reverse": true, "domain": [-1, 1]},
       "legend": {"title": null, "orient": "none", "legendX": 281, "legendY": 40, "gradientLength": 173, "gradientThickness": 8, "gradientStrokeWidth": 0, "values": [-0.8, -0.4, 0, 0.4, 0.8], "format": ".1f", "labelFontSize": 12, "labelColor": "#555", "labelOffset": 4}}}},
    {"mark": {"type": "text", "fontSize": 15},
     "encoding": {"text": {"field": "v", "type": "quantitative", "format": ".2f"},
       "color": {"condition": {"test": "abs(datum.v) > 0.45", "value": "white"}, "value": "#333"}}}
  ]
}
]
}
